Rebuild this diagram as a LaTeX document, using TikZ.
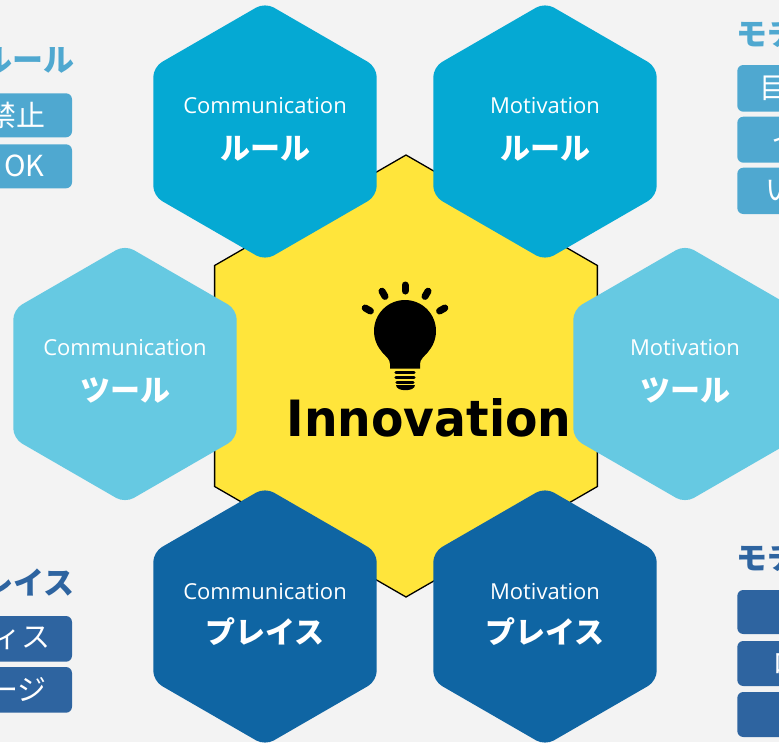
\documentclass[tikz,border=0pt]{standalone}
\usepackage{graphicx}
\usepackage{fontspec}
\setmainfont{Open Sans}
\newfontfamily\jp{Noto Sans CJK JP}
\newfontfamily\dv{DejaVu Sans}
\definecolor{bg}{HTML}{F3F3F3}
\definecolor{hexA}{HTML}{05A9D3}
\definecolor{hexB}{HTML}{66C9E2}
\definecolor{hexC}{HTML}{0F65A3}
\definecolor{hexY}{HTML}{FFE53B}
\definecolor{panA}{HTML}{4FA8D0}
\definecolor{panC}{HTML}{2E64A0}
\newcommand\hexat[4]{\path[#1] ({#2},{#3-#4}) -- ({#2+0.8660254*#4},{#3-0.5*#4}) -- ({#2+0.8660254*#4},{#3+0.5*#4}) -- ({#2},{#3+#4}) -- ({#2-0.8660254*#4},{#3+0.5*#4}) -- ({#2-0.8660254*#4},{#3-0.5*#4}) -- cycle;}
\tikzset{
  smalltxt/.style={text=white, inner sep=0, font=\fontsize{22}{26}\selectfont},
  bigtxt/.style={text=white, inner sep=0, font=\jp\bfseries\fontsize{30}{34}\selectfont},
  ttl/.style={inner sep=0, font=\jp\bfseries\fontsize{31}{34}\selectfont},
  btxt/.style={text=white, inner sep=0, font=\jp\fontsize{29}{32}\selectfont},
  panbox/.style={rounded corners=6},
  ray/.style={line width=7, line cap=round},
  band/.style={line width=3.3, line cap=round}
}
\begin{document}
\begin{tikzpicture}[x=1pt,y=-1pt]
\useasboundingbox (0,0) rectangle (779,742);
\clip (0,0) rectangle (779,742);
\fill[bg] (0,0) rectangle (779,742);

% central hexagon
\hexat{fill=hexY, draw=black, line width=1.3}{406}{376}{221}

% satellite hexagons
\hexat{fill=hexA, rounded corners=10}{265}{131.5}{129}
\hexat{fill=hexA, rounded corners=10}{545}{131.5}{129}
\hexat{fill=hexB, rounded corners=10}{125}{374}{129}
\hexat{fill=hexB, rounded corners=10}{685}{374}{129}
\hexat{fill=hexC, rounded corners=10}{265}{616.5}{129}
\hexat{fill=hexC, rounded corners=10}{545}{616.5}{129}

% hexagon texts
\node[smalltxt] (s1) at (265,106) {Communication};
\node[bigtxt]   (b1) at (265,148.5) {ルール};
\node[smalltxt] (s2) at (545,106) {Motivation};
\node[bigtxt]   (b2) at (545,148.5) {ルール};
\node[smalltxt] (s3) at (125,348) {Communication};
\node[bigtxt]   (b3) at (125,390) {ツール};
\node[smalltxt] (s4) at (685,348) {Motivation};
\node[bigtxt]   (b4) at (685,390) {ツール};
\node[smalltxt] (s5) at (265,592) {Communication};
\node[bigtxt]   (b5) at (265,632) {プレイス};
\node[smalltxt] (s6) at (545,592) {Motivation};
\node[bigtxt]   (b6) at (545,632) {プレイス};

% light bulb
\fill[black] (405,331) circle[radius=31];
\fill[black] (381.3,350.9) .. controls (386,357) and (390,359) .. (390,364) -- (390,368.5) -- (420,368.5) -- (420,364) .. controls (420,359) and (424,357) .. (428.7,350.9) -- cycle;
\draw[band] (396,372.3) -- (414,372.3);
\draw[band] (396,377.3) -- (414,377.3);
\draw[band] (397,382.3) -- (413,382.3);
\fill[black] (395.5,385) .. controls (395.5,391.5) and (414.5,391.5) .. (414.5,385) -- cycle;
\draw[ray] (405,291) -- (405,285);
\draw[ray] (385,296.4) -- (382,291.2);
\draw[ray] (425,296.4) -- (428,291.2);
\draw[ray] (370.4,311) -- (365.2,308);
\draw[ray] (439.6,311) -- (444.8,308);

\node[font=\dv\bfseries\fontsize{50}{55}\selectfont, anchor=base, inner sep=0] (inno) at (429,436) {\scalebox{0.945}[1]{Innovation}};

% left top panel
\node[ttl, text=panA, anchor=east] (t1) at (75,60) {ルール};
\fill[panA, panbox] (-10,93.3) rectangle (72,137.3);
\fill[panA, panbox] (-10,144.3) rectangle (72,188.3);
\node[btxt, anchor=east] (l1) at (46,115.3) {禁止};
\node[btxt, anchor=east] (l2) at (44.5,166.3) {OK};

% left bottom panel
\node[ttl, text=panC, anchor=east] (t2) at (75,583) {レイス};
\fill[panC, panbox] (-10,616) rectangle (72,661.7);
\fill[panC, panbox] (-10,667) rectangle (72,712.7);
\node[btxt, anchor=east] (l3) at (51,638.8) {ィス};
\node[btxt, anchor=east] (l4) at (47,689.8) {ージ};

% right top panel
\node[ttl, text=panA, anchor=west] (t3) at (736,33.5) {モチ};
\fill[panA, panbox] (737.3,65) rectangle (820,111.7);
\fill[panA, panbox] (737.3,116.7) rectangle (820,162.7);
\fill[panA, panbox] (737.3,167.7) rectangle (820,214);
\node[btxt, anchor=west] (r1) at (759,88.3) {目};
\node[btxt, anchor=west] (r2) at (771,139.7) {イ};
\node[btxt, anchor=west] (r3) at (765,190.8) {い};

% right bottom panel
\node[ttl, text=panC, anchor=west] (t4) at (736,557.5) {モチ};
\fill[panC, panbox] (737.3,590) rectangle (820,634);
\fill[panC, panbox] (737.3,641) rectangle (820,686);
\fill[panC, panbox] (737.3,692) rectangle (820,737);
\node[btxt, anchor=west] (r4) at (772,663.5) {ロ};
\end{tikzpicture}
\end{document}
